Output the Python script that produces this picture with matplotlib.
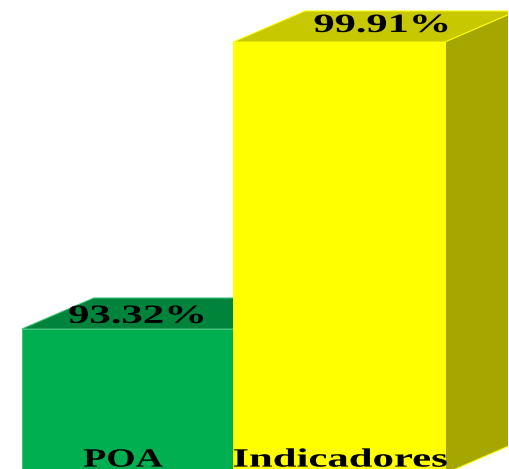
import matplotlib
matplotlib.use("Agg")
import matplotlib.pyplot as plt
import matplotlib.patheffects as pe
from matplotlib.patches import Polygon
from matplotlib.transforms import Affine2D

categories = ["POA", "Indicadores"]
values = [93.32, 99.91]
value_labels = ["93.32%", "99.91%"]

front_colors = ["#00B050", "#FFFF00"]
top_colors = ["#00843C", "#C8C800"]
side_colors = ["#008038", "#A6A600"]
edge_colors = ["#40C47C", "#FFFF00"]

# text in the original is squashed wide, so scale it in x around its centre
class StretchX(pe.AbstractPathEffect):
    def __init__(self, sx, cx):
        super().__init__()
        self.sx = sx
        self.cx = cx

    def draw_path(self, renderer, gc, tpath, affine, rgbFace=None):
        stretch = Affine2D().translate(-self.cx, 0).scale(self.sx, 1).translate(self.cx, 0)
        renderer.draw_path(gc, tpath, affine + stretch, rgbFace)


fig = plt.figure(figsize=(5.10, 4.69), dpi=100)
ax = fig.add_axes([0, 0, 508 / 510, 1])
ax.set_xlim(-0.603, 1.799)
ax.set_ylim(90.105, 100.874)
ax.axis("off")

bar_w = 1.0
depth_x = 0.34
depth_y = 0.712
base = 90.0

for i in range(len(values)):
    v = values[i]
    l = i - bar_w / 2
    r = i + bar_w / 2
    ax.add_patch(Polygon([(r, base), (r + depth_x, base + depth_y), (r + depth_x, v + depth_y), (r, v)],
                         facecolor=side_colors[i], edgecolor=edge_colors[i], linewidth=0.7))
    ax.add_patch(Polygon([(l, v), (l + depth_x, v + depth_y), (r + depth_x, v + depth_y), (r, v)],
                         facecolor=top_colors[i], edgecolor=edge_colors[i], linewidth=0.7))
    ax.bar(i, v - base, bottom=base, width=bar_w, color=front_colors[i],
           edgecolor=edge_colors[i], linewidth=0.7)

font = dict(family="Liberation Serif", weight="bold", color="black", fontsize=19, ha="center", va="baseline")

# pixel centre, stretch and baseline offset for each label
value_x = [137.5, 382.5]
value_sx = [1.62, 1.606]
value_off = [0.14, 0.23]
name_x = [123, 340]
name_sx = [1.433, 1.62]

fig.canvas.draw()
for i in range(len(values)):
    cx = value_x[i]
    x = ax.transData.inverted().transform((cx, 0))[0]
    t = ax.text(x, values[i] + value_off[i], value_labels[i], **font)
    t.set_path_effects([StretchX(value_sx[i], cx)])

    cx = name_x[i]
    x = ax.transData.inverted().transform((cx, 0))[0]
    t = ax.text(x, 90.16, categories[i], **font)
    t.set_path_effects([StretchX(name_sx[i], cx)])

fig.savefig("out.png", dpi=100)
